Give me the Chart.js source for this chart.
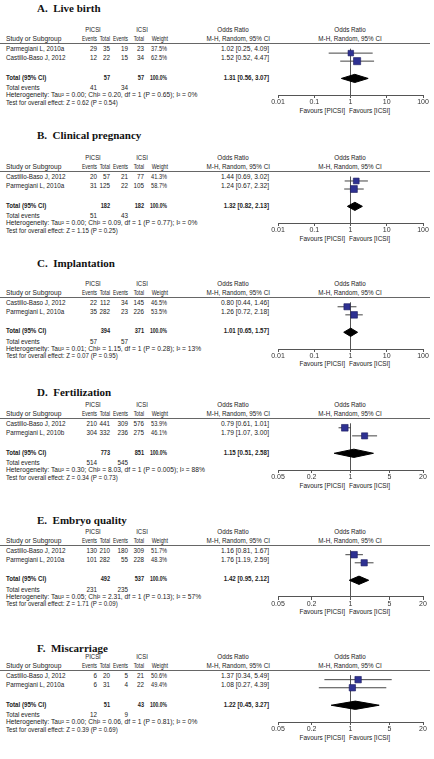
<!DOCTYPE html>
<html>
<head>
<meta charset="utf-8">
<script src="https://cdn.jsdelivr.net/npm/chart.js@4.4.1/dist/chart.umd.min.js"></script>
<style>
  body { margin: 0; background: #fff; }
  #page { position: relative; width: 434px; height: 759px; overflow: hidden; background: #fff; }
  .txt { position: absolute; white-space: pre; line-height: 1; font-family: "Liberation Sans", Arial, sans-serif; font-size: 7px; color: #222; }
  .bold { font-weight: bold; }
  .title { font-family: "Liberation Serif", "Times New Roman", serif; font-size: 11px; font-weight: bold; color: #111; }
  .rule { position: absolute; left: 0; width: 430px; height: 1px; background: #666; }
  canvas { position: absolute; }
</style>
</head>
<body>
<div id="page"></div>
<script>
const panelLetters = ["A.", "B.", "C.", "D.", "E.", "F."];
const panelTitles = ["Live birth", "Clinical pregnancy", "Implantation", "Fertilization", "Embryo quality", "Miscarriage"];
const studyNames = [
  ["Parmegiani L, 2010a", "Castillo-Baso J, 2012"],
  ["Castillo-Baso J, 2012", "Parmegiani L, 2010a"],
  ["Castillo-Baso J, 2012", "Parmegiani L, 2010a"],
  ["Castillo-Baso J, 2012", "Parmegiani L, 2010b"],
  ["Castillo-Baso J, 2012", "Parmegiani L, 2010a"],
  ["Castillo-Baso J, 2012", "Parmegiani L, 2010a"],
];
const picsiEvents = [[29, 12], [20, 31], [22, 35], [210, 304], [130, 101], [6, 6]];
const picsiTotal = [[35, 22], [57, 125], [112, 282], [441, 332], [210, 282], [20, 31]];
const icsiEvents = [[19, 15], [21, 22], [34, 23], [309, 236], [180, 55], [5, 4]];
const icsiTotal = [[23, 34], [77, 105], [145, 226], [576, 275], [309, 228], [21, 22]];
const weights = [[37.5, 62.5], [41.3, 58.7], [46.5, 53.5], [53.9, 46.1], [51.7, 48.3], [50.6, 49.4]];
const oddsRatio = [[1.02, 1.52], [1.44, 1.24], [0.80, 1.26], [0.79, 1.79], [1.16, 1.76], [1.37, 1.08]];
const ciLower = [[0.25, 0.52], [0.69, 0.67], [0.44, 0.72], [0.61, 1.07], [0.81, 1.19], [0.34, 0.27]];
const ciUpper = [[4.09, 4.47], [3.02, 2.32], [1.46, 2.18], [1.01, 3.00], [1.67, 2.59], [5.49, 4.39]];
const pooledOR = [1.31, 1.32, 1.01, 1.15, 1.42, 1.22];
const pooledLower = [0.56, 0.82, 0.65, 0.51, 0.95, 0.45];
const pooledUpper = [3.07, 2.13, 1.57, 2.58, 2.12, 3.27];
const tauSquared = ["0.00", "0.00", "0.01", "0.30", "0.05", "0.00"];
const chiSquared = ["0.20", "0.09", "1.15", "8.03", "2.31", "0.06"];
const hetP = ["0.65", "0.77", "0.28", "0.005", "0.13", "0.81"];
const iSquared = [0, 0, 13, 88, 57, 0];
const zValues = ["0.62", "1.15", "0.07", "0.34", "1.71", "0.39"];
const zP = ["0.54", "0.25", "0.95", "0.73", "0.09", "0.69"];
const axisTicks = [
  [0.01, 0.1, 1, 10, 100],
  [0.01, 0.1, 1, 10, 100],
  [0.01, 0.1, 1, 10, 100],
  [0.05, 0.2, 1, 5, 20],
  [0.05, 0.2, 1, 5, 20],
  [0.05, 0.2, 1, 5, 20],
];

// layout
const FONT = "'Liberation Sans', Arial, sans-serif";
const titleY = [8.3, 135, 263.3, 391.7, 520, 648.3];
const panelTop = [0, 128, 253.5, 375, 501.5, 627];
const ROW_Y = [5, 14];
const TOTAL_Y = 33.4;
const DIAMOND_H = 4.6;
const PLOT_H = 52;
const COL = { pe: 97, pt: 110, ie: 128, it: 144, w: 167, or: 269 };

const page = document.getElementById("page");

const addText = function (str, x, y, align, sx, cls) {
  const el = document.createElement("div");
  el.className = "txt" + (cls ? " " + cls : "");
  el.textContent = str;
  el.style.left = x + "px";
  el.style.top = y + "px";
  let shift = "0";
  let origin = "left center";
  if (align === "right") { shift = "-100%"; origin = "right center"; }
  if (align === "center") { shift = "-50%"; origin = "center center"; }
  el.style.transform = "translate(" + shift + ", -50%) scaleX(" + (sx || 1) + ")";
  el.style.transformOrigin = origin;
  page.appendChild(el);
};

const sum = (arr) => arr.reduce((a, b) => a + b, 0);
const orText = (v, lo, hi) => v.toFixed(2) + " [" + lo.toFixed(2) + ", " + hi.toFixed(2) + "]";

const makeForest = function (k, top) {
  const canvas = document.createElement("canvas");
  canvas.width = 164;
  canvas.height = PLOT_H + 12;
  canvas.style.left = "270px";
  canvas.style.top = top + "px";
  page.appendChild(canvas);

  const squares = {
    type: "scatter",
    data: oddsRatio[k].map((v, i) => ({ x: v, y: ROW_Y[i] })),
    pointStyle: "rect",
    pointRadius: weights[k].map((w) => 0.64 * Math.sqrt(w)),
    backgroundColor: "#2e3192",
    borderColor: "#1b1b5e",
    borderWidth: 0.6,
    clip: false,
  };
  const ciLines = oddsRatio[k].map((v, i) => ({
    type: "line",
    data: [{ x: ciLower[k][i], y: ROW_Y[i] }, { x: ciUpper[k][i], y: ROW_Y[i] }],
    borderColor: "#444",
    borderWidth: 1,
    pointRadius: 0,
    fill: false,
  }));
  const diamondTop = {
    type: "line",
    data: [
      { x: pooledLower[k], y: TOTAL_Y },
      { x: pooledOR[k], y: TOTAL_Y - DIAMOND_H },
      { x: pooledUpper[k], y: TOTAL_Y },
    ],
    borderColor: "#000",
    backgroundColor: "#000",
    borderWidth: 1,
    pointRadius: 0,
    fill: "+1",
  };
  const diamondBottom = {
    type: "line",
    data: [
      { x: pooledLower[k], y: TOTAL_Y },
      { x: pooledOR[k], y: TOTAL_Y + DIAMOND_H },
      { x: pooledUpper[k], y: TOTAL_Y },
    ],
    borderColor: "#000",
    borderWidth: 1,
    pointRadius: 0,
    fill: false,
  };

  new Chart(canvas, {
    type: "scatter",
    data: { datasets: [squares, ...ciLines, diamondTop, diamondBottom] },
    options: {
      responsive: false,
      animation: false,
      events: [],
      layout: { padding: { left: 8, right: 11, top: 0, bottom: 0 } },
      plugins: { legend: { display: false }, tooltip: { enabled: false } },
      scales: {
        x: {
          type: "logarithmic",
          min: axisTicks[k][0],
          max: axisTicks[k][axisTicks[k].length - 1],
          afterBuildTicks: (s) => {
            s.ticks = axisTicks[k].map((v) => ({ value: v }));
          },
          afterFit: (s) => {
            s.height = 12;
            s.paddingLeft = 0;
            s.paddingRight = 0;
          },
          border: { display: true, color: "#555", width: 1 },
          grid: {
            drawOnChartArea: true,
            color: (c) => (c.tick && c.tick.value === 1 ? "#555" : "rgba(0,0,0,0)"),
            tickColor: "#555",
            tickLength: 3,
            lineWidth: 1,
          },
          ticks: {
            color: "#333",
            padding: 0,
            maxRotation: 0,
            autoSkip: false,
            font: { family: FONT, size: 7 },
            callback: (v) => String(v),
          },
        },
        y: { type: "linear", min: 0, max: PLOT_H, reverse: true, display: false },
      },
    },
  });
};

const drawPanel = function (k) {
  const b = panelTop[k];
  addText(panelLetters[k] + "  " + panelTitles[k], 37, titleY[k], "left", 1, "title");

  addText("PICSI", 93, b + 29.3, "center", 0.85);
  addText("ICSI", 142, b + 29.3, "center", 0.85);
  addText("Odds Ratio", 233, b + 29.3, "center", 0.9);
  addText("Odds Ratio", 350, b + 29.3, "center", 0.9);

  addText("Study or Subgroup", 6, b + 38.3, "left", 0.95);
  addText("Events", COL.pe, b + 38.3, "right", 0.7);
  addText("Total", COL.pt, b + 38.3, "right", 0.7);
  addText("Events", COL.ie, b + 38.3, "right", 0.7);
  addText("Total", COL.it, b + 38.3, "right", 0.7);
  addText("Weight", COL.w + 1, b + 38.3, "right", 0.75);
  addText("M-H, Random, 95% CI", COL.or + 1, b + 38.3, "right", 0.9);
  addText("M-H, Random, 95% CI", 350, b + 38.3, "center", 0.9);

  const rule = document.createElement("div");
  rule.className = "rule";
  rule.style.top = (b + 43) + "px";
  page.appendChild(rule);

  studyNames[k].forEach((name, i) => {
    const y = b + 48.3 + i * 9;
    addText(name, 6, y, "left", 0.9);
    addText(String(picsiEvents[k][i]), COL.pe, y, "right", 0.9);
    addText(String(picsiTotal[k][i]), COL.pt, y, "right", 0.9);
    addText(String(icsiEvents[k][i]), COL.ie, y, "right", 0.9);
    addText(String(icsiTotal[k][i]), COL.it, y, "right", 0.9);
    addText(weights[k][i].toFixed(1) + "%", COL.w, y, "right", 0.8);
    addText(orText(oddsRatio[k][i], ciLower[k][i], ciUpper[k][i]), COL.or, y, "right", 0.95);
  });

  const ty = b + 76.7;
  addText("Total (95% CI)", 6, ty, "left", 0.88, "bold");
  addText(String(sum(picsiTotal[k])), COL.pt, ty, "right", 0.8, "bold");
  addText(String(sum(icsiTotal[k])), COL.it, ty, "right", 0.8, "bold");
  addText(sum(weights[k]).toFixed(1) + "%", COL.w, ty, "right", 0.72, "bold");
  addText(orText(pooledOR[k], pooledLower[k], pooledUpper[k]), COL.or, ty, "right", 0.88, "bold");

  addText("Total events", 6, b + 87.3, "left", 0.9);
  addText(String(sum(picsiEvents[k])), COL.pe, b + 87.3, "right", 0.9);
  addText(String(sum(icsiEvents[k])), COL.ie, b + 87.3, "right", 0.9);

  addText("Heterogeneity: Tau² = " + tauSquared[k] + "; Chi² = " + chiSquared[k] + ", df = 1 (P = " + hetP[k] + "); I² = " + iSquared[k] + "%", 6, b + 94.3, "left", 0.95);
  addText("Test for overall effect: Z = " + zValues[k] + " (P = " + zP[k] + ")", 6, b + 101.7, "left", 0.88);

  addText("Favours [PICSI]", 345, b + 109.5, "right", 0.92);
  addText("Favours [ICSI]", 349, b + 109.5, "left", 0.92);

  makeForest(k, b + 43);
};

for (let k = 0; k < panelTitles.length; k++) {
  drawPanel(k);
}
</script>
</body>
</html>
